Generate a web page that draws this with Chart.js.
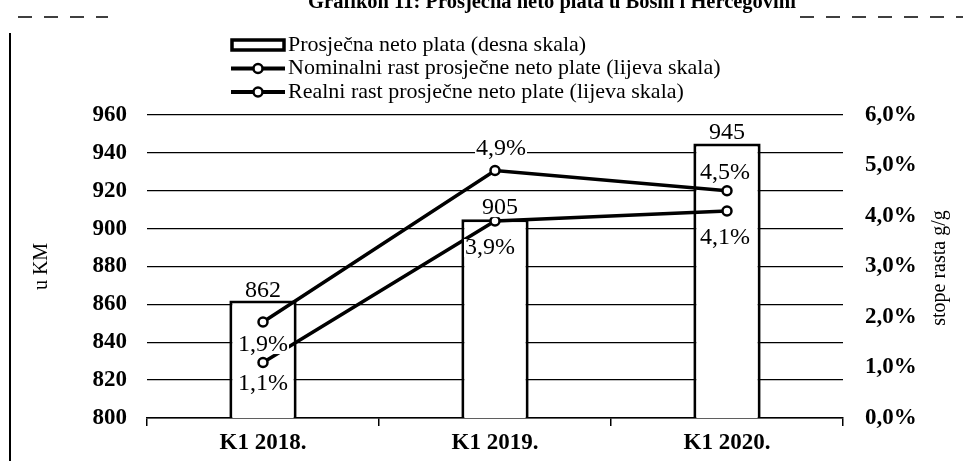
<!DOCTYPE html>
<html>
<head>
<meta charset="utf-8">
<script src="https://cdn.jsdelivr.net/npm/chart.js@4.4.0/dist/chart.umd.min.js"></script>
<style>
html, body { margin: 0; padding: 0; background: #fff; }
#wrap { width: 963px; height: 461px; }
</style>
</head>
<body>
<div id="wrap"><canvas id="myChart" width="963" height="461"></canvas></div>
<script>
const chartTitle = 'Grafikon 11: Prosječna neto plata u Bosni i Hercegovini';
const categories = ['K1 2018.', 'K1 2019.', 'K1 2020.'];
const seriesLabels = [
    'Prosječna neto plata (desna skala)',
    'Nominalni rast prosječne neto plate (lijeva skala)',
    'Realni rast prosječne neto plate (lijeva skala)'
];
const avgWage = [862, 905, 945];
const nominalGrowth = [1.9, 4.9, 4.5];
const realGrowth = [1.1, 3.9, 4.1];
const wageTicks = [800, 820, 840, 860, 880, 900, 920, 940, 960];
const rateTicks = [0, 1, 2, 3, 4, 5, 6];

const serif = "'Liberation Serif', 'Times New Roman', serif";
const pct = v => v.toFixed(1).replace('.', ',') + '%';

// label offsets from each mark, [dx, dy]
const labelOffsets = [
    [[0, -10], [5, -11], [0, -11]],
    [[0, 23], [6, -22], [-2, -18]],
    [[0, 21], [-5, 27], [-2, 27]]
];

const decorPlugin = {
    id: 'decor',
    beforeDraw(chart) {
        const c = chart.ctx;
        c.save();
        c.fillStyle = '#fff';
        c.fillRect(0, 0, chart.width, chart.height);
        c.strokeStyle = '#000';
        c.lineWidth = 2;
        c.beginPath();
        c.moveTo(10, 33);
        c.lineTo(10, 461);
        c.stroke();
        c.lineWidth = 1.5;
        c.setLineDash([14, 12]);
        c.beginPath();
        c.moveTo(18, 17);
        c.lineTo(108, 17);
        c.moveTo(800, 17);
        c.lineTo(963, 17);
        c.stroke();
        c.setLineDash([]);
        c.fillStyle = '#000';
        c.font = 'bold 20.5px ' + serif;
        c.textAlign = 'center';
        c.textBaseline = 'alphabetic';
        c.fillText(chartTitle, 552, 8);
        c.restore();
    },
    afterDatasetsDraw(chart) {
        const c = chart.ctx;
        c.save();
        c.font = '24px ' + serif;
        c.textAlign = 'center';
        c.textBaseline = 'middle';
        chart.data.datasets.forEach((ds, i) => {
            chart.getDatasetMeta(i).data.forEach((el, j) => {
                const txt = i === 0 ? String(ds.data[j]) : pct(ds.data[j]);
                const x = el.x + labelOffsets[i][j][0];
                const y = el.y + labelOffsets[i][j][1];
                const w = c.measureText(txt).width;
                c.fillStyle = '#fff';
                c.fillRect(x - w / 2 - 1, y - 9, w + 2, 18);
                c.fillStyle = '#000';
                c.fillText(txt, x, y);
            });
        });
        c.restore();
    },
    afterDraw(chart) {
        const c = chart.ctx;
        c.save();
        // legend
        c.font = '22px ' + serif;
        c.textBaseline = 'middle';
        c.textAlign = 'left';
        c.strokeStyle = '#000';
        c.fillStyle = '#000';
        chart.data.datasets.forEach((ds, i) => {
            const y = 45 + i * 23.5;
            if (i === 0) {
                c.lineWidth = 3.5;
                c.fillStyle = '#fff';
                c.fillRect(232, y - 5, 52, 10);
                c.strokeRect(232, y - 5, 52, 10);
            } else {
                c.lineWidth = 4;
                c.beginPath();
                c.moveTo(231, y);
                c.lineTo(285, y);
                c.stroke();
                c.lineWidth = 2.5;
                c.fillStyle = '#fff';
                c.beginPath();
                c.arc(258, y, 4.5, 0, Math.PI * 2);
                c.fill();
                c.stroke();
            }
            c.fillStyle = '#000';
            c.fillText(ds.label, 288, y);
        });
        // right axis title, reading upward
        c.font = '20px ' + serif;
        c.textAlign = 'center';
        c.translate(940, 268);
        c.rotate(-Math.PI / 2);
        c.fillText('stope rasta g/g', 0, 0);
        c.restore();
    }
};

const ctx = document.getElementById('myChart').getContext('2d');
const myChart = new Chart(ctx, {
    type: 'bar',
    data: {
        labels: categories,
        datasets: [{
            label: seriesLabels[0],
            data: avgWage,
            yAxisID: 'y',
            backgroundColor: '#fff',
            borderColor: '#000',
            borderWidth: 3,
            barPercentage: 0.29,
            categoryPercentage: 1,
            order: 2
        }, {
            type: 'line',
            label: seriesLabels[1],
            data: nominalGrowth,
            yAxisID: 'y1',
            borderColor: '#000',
            borderWidth: 3.5,
            pointRadius: 4.5,
            pointBorderWidth: 2.5,
            pointBackgroundColor: '#fff',
            pointBorderColor: '#000',
            order: 1
        }, {
            type: 'line',
            label: seriesLabels[2],
            data: realGrowth,
            yAxisID: 'y1',
            borderColor: '#000',
            borderWidth: 3.5,
            pointRadius: 4.5,
            pointBorderWidth: 2.5,
            pointBackgroundColor: '#fff',
            pointBorderColor: '#000',
            order: 1
        }]
    },
    options: {
        responsive: false,
        animation: false,
        devicePixelRatio: 1,
        layout: { padding: { top: 115, left: 0, right: 0, bottom: 0 } },
        plugins: {
            legend: { display: false },
            tooltip: { enabled: false }
        },
        scales: {
            x: {
                grid: {
                    offset: true,
                    drawOnChartArea: false,
                    drawTicks: true,
                    tickLength: 8,
                    color: '#000',
                    lineWidth: 1.5
                },
                border: { display: true, color: '#000', width: 1.5 },
                ticks: { color: '#000', padding: 3, font: { family: serif, size: 23, weight: 'bold' } },
                afterFit: s => { s.height = 43; }
            },
            y: {
                position: 'left',
                min: 800,
                max: 960,
                afterBuildTicks: s => { s.ticks = wageTicks.map(v => ({ value: v })); },
                grid: { color: '#000', lineWidth: 1.3, drawTicks: false },
                border: { display: false },
                ticks: { color: '#000', padding: 20, font: { family: serif, size: 23, weight: 'bold' } },
                title: {
                    display: true,
                    text: 'u KM',
                    color: '#000',
                    font: { family: serif, size: 20 },
                    padding: { top: 30, bottom: 0 }
                },
                afterFit: s => { s.width = 147; }
            },
            y1: {
                position: 'right',
                min: 0,
                max: 6,
                afterBuildTicks: s => { s.ticks = rateTicks.map(v => ({ value: v })); },
                grid: { drawOnChartArea: false, drawTicks: false },
                border: { display: false },
                ticks: {
                    color: '#000',
                    padding: 22,
                    font: { family: serif, size: 23, weight: 'bold' },
                    callback: v => pct(v)
                },
                afterFit: s => { s.width = 120; }
            }
        }
    },
    plugins: [decorPlugin]
});
</script>
</body>
</html>
